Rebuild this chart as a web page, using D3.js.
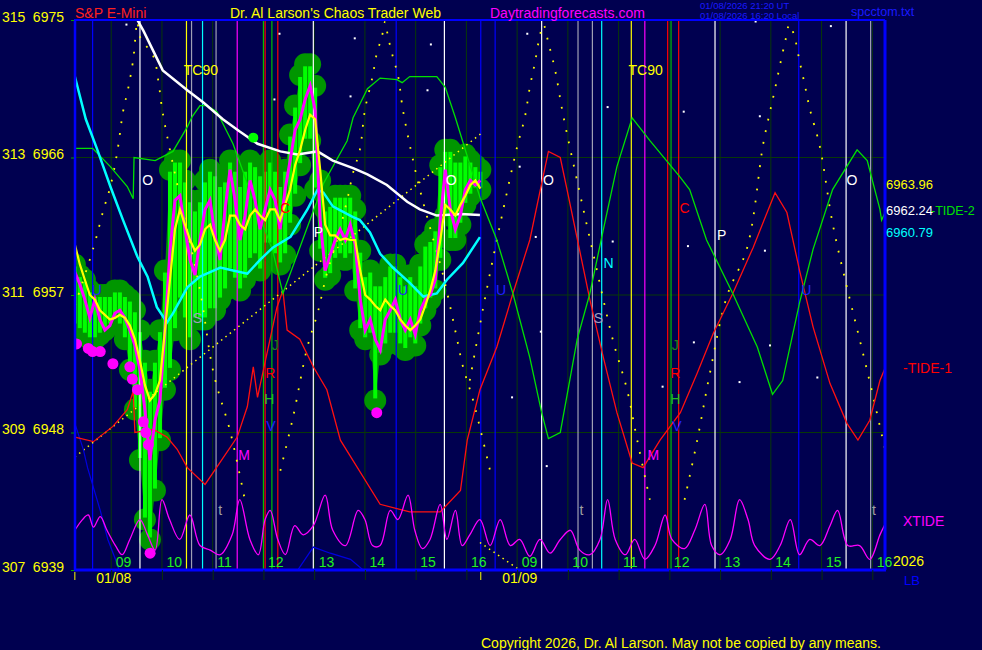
<!DOCTYPE html>
<html><head><meta charset="utf-8">
<script src="https://cdn.jsdelivr.net/npm/d3@7"></script>
<style>
html,body{margin:0;padding:0;background:#000050;}
svg{display:block;}
text{font-family:"Liberation Sans",Arial,sans-serif;}
</style></head><body>
<svg id="chart" width="982" height="650"></svg>
<script>
// ---------- DATA (time = session minutes from 01/08 09:00, 60 per hour slot; price = S&P E-mini) ----------
const priceTicks = [6939, 6948, 6957, 6966, 6975];
const altTicks = [307, 309, 311, 313, 315];
const hourTicks = [0,60,120,180,240,300,360,420,480,540,600,660,720,780,840,900];
const hourLabels = ["09","10","11","12","13","14","15","16","09","10","11","12","13","14","15","16"];
const dateTicks = [-43, 437];
const dateLabels = ["01/08", "01/09"];

// 1-bar price series (regular samples)
const barStart = -43, barStep = 5.92;
const closeP = [6958.5,6957.7,6956.7,6955.5,6956.7,6955.4,6954.7,6955.0,6955.8,6956.0,
6955.5,6954.7,6953.7,6952.1,6949.5,6946.2,6948.8,6950.1,6954.7,6959.9,
6963.2,6963.5,6961.3,6959.3,6958.3,6960.6,6962.6,6963.2,6960.9,6959.3,
6962.6,6965.2,6963.2,6960.6,6962.2,6964.5,6963.2,6961.3,6962.6,6963.9,
6963.2,6961.3,6963.9,6965.8,6967.8,6968.5,6969.8,6970.7,6969.1,6961.9,
6958.6,6959.6,6960.6,6961.3,6960.6,6961.6,6960.3,6956.7,6954.7,6955.4,
6954.1,6953.4,6955.4,6956.0,6956.7,6955.4,6954.7,6955.4,6954.4,6956.0,
6956.7,6957.0,6958.0,6961.9,6965.2,6962.6,6961.3,6962.2,6963.9,6964.5,
6964.2,6964.5];
const yellowP = [6960.3,6959.0,6958.0,6957.0,6956.7,6956.0,6955.7,6955.4,6955.5,6955.7,
6955.5,6955.0,6954.1,6952.7,6951.1,6950.1,6950.5,6951.4,6954.7,6958.0,
6961.3,6962.6,6961.6,6960.6,6959.9,6960.3,6961.3,6961.6,6960.6,6959.9,
6960.6,6962.2,6962.2,6961.6,6961.3,6962.2,6962.6,6962.2,6961.9,6962.6,
6962.6,6961.9,6962.9,6963.9,6965.5,6966.5,6967.8,6968.8,6968.5,6965.2,
6961.6,6960.9,6960.9,6960.6,6960.7,6960.6,6960.6,6958.6,6957.0,6956.7,
6956.3,6956.0,6956.7,6956.3,6956.0,6955.4,6955.0,6954.7,6955.0,6955.4,
6956.3,6957.3,6958.6,6960.6,6962.9,6962.6,6962.2,6962.9,6963.5,6964.2,
6964.5,6963.96];
const barHigh = [6959.0,6958.3,6958.0,6957.3,6957.0,6957.0,6957.0,6957.0,6957.3,6957.3,
6957.0,6956.7,6956.0,6954.7,6952.7,6950.8,6952.7,6954.7,6958.6,6965.2,
6965.8,6965.8,6964.5,6963.2,6962.6,6963.2,6964.5,6965.2,6964.9,6964.2,
6964.5,6965.8,6965.2,6964.2,6965.2,6965.8,6965.5,6964.9,6965.2,6965.8,
6965.2,6964.2,6965.2,6967.5,6969.4,6971.4,6972.1,6972.1,6970.7,6964.5,
6962.6,6962.9,6963.5,6963.5,6963.5,6963.5,6962.6,6959.9,6958.3,6958.6,
6957.7,6957.7,6958.3,6959.0,6959.0,6958.3,6957.7,6958.3,6957.7,6959.0,
6960.3,6960.6,6961.3,6965.5,6966.5,6966.5,6965.8,6965.8,6966.2,6965.8,
6965.5,6965.2];
const barLow = [6955.0,6954.7,6954.4,6954.1,6954.1,6954.4,6954.7,6955.0,6955.4,6955.0,
6954.1,6952.1,6949.5,6946.2,6942.3,6941.0,6944.2,6947.5,6950.8,6952.1,
6954.7,6956.7,6955.4,6954.1,6955.4,6955.4,6955.4,6956.0,6956.0,6956.7,
6957.3,6958.6,6958.0,6957.3,6958.0,6959.3,6959.6,6958.6,6960.3,6960.3,
6959.6,6959.0,6959.6,6961.6,6963.5,6965.5,6967.1,6967.1,6963.9,6959.9,
6958.0,6958.3,6959.3,6959.6,6959.3,6959.6,6957.3,6954.7,6954.1,6954.4,
6950.1,6953.1,6953.7,6954.4,6954.4,6953.7,6953.4,6954.1,6953.7,6955.0,
6956.0,6956.7,6957.3,6959.3,6962.2,6960.6,6960.6,6961.6,6962.9,6963.5,
6963.9,6963.9];

// moving averages
const cyanT = [-43,-30,-17,-1,14,31,43,54,66,73,90,105,113,129,144,161,176,191,212,232,244,251,262,286,294,306,318,333,353,369,385,397,416,436];
const cyanP = [6971.3,6968.5,6966.6,6964.1,6961.9,6959.5,6958.2,6956.2,6955.2,6955.8,6957.5,6958.2,6958.4,6958.8,6958.6,6958.4,6959.3,6960.1,6960.8,6962.6,6963.9,6963.7,6962.8,6962.1,6961.9,6961.1,6959.7,6958.8,6957.8,6956.9,6957.1,6958.0,6959.1,6960.79];
const whiteT = [26,38,61,90,109,132,152,173,200,220,244,262,286,303,326,350,365,385,413,436];
const whiteP = [6975.5,6974.3,6971.7,6970.4,6969.6,6968.5,6967.7,6966.9,6966.4,6966.2,6966.4,6965.8,6965.3,6964.9,6964.2,6963.1,6962.6,6962.2,6962.3,6962.24];

// forecast tides
const tide2T = [-43,-22,-1,19,26,27,52,73,90,96,105,113,125,144,161,191,203,251,279,286,303,318,338,344,353,385,395,407,436,456,475,495,509,517,531,551,566,582,598,616,637,673,684,704,735,764,782,794,814,830,853,882,894,909,911,915];
const tide2P = [6966.6,6966.6,6965.4,6964.1,6963.3,6966.0,6965.8,6966.4,6968.0,6968.7,6969.4,6969.4,6969.0,6966.9,6964.3,6959.9,6957.1,6964.3,6967.1,6968.6,6970.5,6971.2,6971.1,6970.9,6971.3,6971.3,6970.6,6968.6,6963.4,6960.6,6957.1,6952.9,6949.3,6947.6,6948.0,6954.1,6957.1,6961.3,6965.4,6968.6,6967.1,6964.7,6963.9,6960.6,6957.1,6953.6,6950.5,6951.4,6956.5,6960.0,6963.9,6966.5,6965.8,6962.6,6961.9,6962.4];
const tide1T = [-43,-21,2,19,26,28,50,66,78,90,111,149,161,168,173,180,196,203,208,223,239,255,271,318,353,389,413,421,436,456,475,495,509,517,531,539,554,566,582,598,616,629,649,673,693,712,735,759,785,799,814,830,850,870,883,897,909,915];
const tide1P = [6947.7,6947.4,6948.4,6949.5,6950.7,6948.0,6948.2,6947.7,6946.9,6945.7,6944.6,6947.7,6949.7,6952.3,6950.3,6952.1,6956.2,6957.3,6954.7,6954.1,6952.3,6950.8,6947.5,6943.3,6942.8,6942.8,6944.2,6947.5,6950.8,6953.6,6957.1,6960.6,6964.3,6966.4,6966.0,6963.9,6959.9,6956.7,6952.9,6949.3,6946.0,6945.7,6947.5,6949.3,6951.9,6954.5,6957.1,6960.1,6963.7,6962.4,6958.6,6954.9,6951.2,6948.6,6947.5,6948.8,6951.4,6952.2];
const xtideT = [-43,-34,-27,-21,-13,-5,5,13,22,34,43,52,60,69,81,93,105,117,129,143,152,164,174,182,188,197,206,217,227,239,253,262,277,292,300,309,318,330,339,351,359,368,377,389,397,407,415,424,436,448,460,472,483,495,507,519,531,543,554,566,578,587,596,608,619,631,643,655,663,678,690,702,710,720,732,743,753,761,779,791,803,814,826,838,850,859,871,885,897,909,915];
const xtideP = [6941.6,6942.3,6942.6,6941.8,6942.5,6941.6,6940.6,6940.0,6941.0,6942.3,6941.3,6940.3,6943.6,6942.3,6941.0,6942.6,6940.6,6940.3,6940.0,6941.3,6943.6,6941.0,6940.0,6942.3,6942.9,6941.0,6940.0,6941.9,6941.3,6941.9,6943.9,6941.6,6940.6,6942.9,6942.3,6940.6,6940.6,6942.9,6942.3,6943.9,6941.6,6940.4,6941.0,6943.3,6941.0,6942.9,6940.6,6941.3,6942.3,6940.6,6942.3,6940.6,6941.0,6939.9,6941.0,6940.1,6941.0,6941.6,6940.3,6940.0,6941.0,6943.6,6941.0,6940.0,6941.0,6939.7,6940.6,6942.6,6941.0,6940.4,6941.6,6943.3,6940.6,6940.0,6941.0,6943.6,6942.3,6940.6,6939.7,6940.6,6942.3,6940.0,6941.0,6940.6,6941.9,6942.9,6940.6,6940.6,6939.7,6941.3,6942.0];
const blueT1 = [-43,-33,-28,-13,-4,5,11];
const blueP1 = [6948.6,6946.9,6945.7,6942.9,6941.0,6939.7,6938.7];
const blueT2 = [217,239,259,283,300];
const blueP2 = [6938.7,6940.5,6940.1,6939.7,6938.9];

// dotted arcs
const arcAT = [-43,-21,-9,-1,7,14,20,26,31,34,50,56,61,82,105,121,141,158];
const arcAP = [6956.3,6960.1,6962.6,6964.1,6966.3,6969.0,6970.5,6972.4,6974.9,6973.9,6972.6,6970.9,6968.9,6963.2,6957.3,6951.9,6948.0,6943.6];
const arcBT = [200,215,232,244,255,267,279,286,294,300,309,314,320,324,327,333,339,345,357,365,381,392,401,409,416,428,448];
const arcBP = [6945.5,6949.0,6953.6,6955.8,6958.4,6960.6,6963.2,6965.0,6966.5,6969.1,6971.3,6972.8,6973.9,6974.9,6974.0,6972.6,6971.4,6969.1,6965.8,6963.9,6960.6,6958.4,6956.2,6954.1,6952.3,6950.1,6945.5];
const arcCT = [424,440,456,480,489,495,501,507,511,517,525,534,554,570,593,610,622,637];
const arcCP = [6951.4,6956.2,6960.6,6966.7,6968.6,6970.6,6972.2,6974.0,6974.7,6973.5,6971.7,6968.9,6963.7,6959.7,6954.1,6950.8,6947.5,6943.6];
const arcDT = [678,693,708,728,752,771,779,785,791,797,802,808,814,820,826,838,853,870,885,900,915];
const arcDP = [6943.6,6947.5,6951.9,6956.9,6960.1,6966.9,6969.0,6970.5,6972.1,6973.6,6974.7,6973.9,6972.3,6970.8,6969.2,6966.7,6961.7,6957.5,6954.1,6950.6,6946.9];
const trendT = [-43, 438];
const trendP = [6946.4, 6967.6];
const trend2T = [436, 483];
const trend2P = [6940.8, 6939.0];

// event markers
const blueLines = [-22, 337, 437, 454, 813];
const whiteLines = [34, 239, 394, 509, 714, 869];
const yellowLines = [89, 615];
const grayLines = [95, 124, 552, 569, 898];
const cyanLines = [108, 580];
const magentaLines = [149, 631];
const redLines = [182, 197, 658, 671];
const greenLines = [180, 190, 662];

const lowDotT = [-41,-27,-22,-13,2,22,25,31,38,41,44,46,314];
const lowDotP = [6953.8,6953.5,6953.3,6953.3,6952.5,6952.3,6951.5,6950.8,6948.7,6948.0,6947.2,6940.1,6949.3];
const whiteDotT = [18,199,193,288,378,374,283,492,587,762,851,677,767,483,502,593,682,773,508,474,652,689,779,743,835,515];
const whiteDotP = [6974.7,6974.1,6969.8,6973.8,6973.4,6970.4,6970.0,6974.1,6969.3,6974.9,6974.6,6969.0,6968.7,6965.4,6960.8,6960.5,6960.2,6959.9,6954.6,6950.3,6951.0,6953.9,6953.7,6951.3,6951.6,6945.8];

const letters = ["O","O","O","O","P","P","U","U","U","U","S","S","N","C","C","J","J","R","R","H","H","V","V","M","M","t","t","t","TC90","TC90"];
const letterT = [43,402,517,876,245,722,-17,345,461,822,102,576,588,206,678,194,667,188,667,187,667,189,669,157,641,129,556,902,106,632];
const letterP = [6964.5,6964.5,6964.5,6964.5,6961.1,6960.9,6957.3,6957.3,6957.3,6957.3,6955.5,6955.5,6959.1,6962.7,6962.7,6953.7,6953.7,6951.9,6951.9,6950.2,6950.2,6948.4,6948.4,6946.5,6946.5,6942.9,6942.9,6942.9,6971.7,6971.7];

// ---------- DRAWING ----------
const svg = d3.select("#chart");
const W = 982, H = 650;
const x = d3.scaleLinear().domain([-44, 915]).range([74, 885]);
const y = d3.scaleLinear().domain([6939, 6975]).range([570, 20]);
const X0 = x(-44), X1 = x(915), Y0 = y(6975), Y1 = y(6939);
const C = {bg:"#000050", grid:"#083808", blue:"#0000ff", white:"#ffffff", yellow:"#ffff00",
  gray:"#a0a0b4", cyan:"#00ffff", magenta:"#ff00ff", red:"#ff0000", green:"#00c000",
  bright:"#00ff00", dark:"#009600", tideG:"#00e000", tideR:"#ff1010"};
const letterColor = {O:"#ffffff",P:"#ffffff",U:"#2020ff",V:"#2020ff",S:"#a0a0c0",N:"#00ffff",C:"#ff0000",R:"#ff0000",J:"#208020",H:"#20c020",M:"#ff00ff",t:"#a0a0a0",TC90:"#ffff00"};

svg.append("rect").attr("width", W).attr("height", H).attr("fill", C.bg);
svg.append("defs").append("clipPath").attr("id", "clip").append("rect")
  .attr("x", X0).attr("y", Y0).attr("width", X1 - X0).attr("height", Y1 - Y0);

const line = d3.line().x(d => x(d[0])).y(d => y(d[1]));
const barT = d3.range(closeP.length).map(i => barStart + i * barStep);

// grid
const g = svg.append("g").attr("clip-path", "url(#clip)");
g.selectAll(".hg").data(priceTicks.slice(1, -1)).join("line")
  .attr("x1", X0).attr("x2", X1).attr("y1", d => y(d)).attr("y2", d => y(d))
  .attr("stroke", C.grid).attr("stroke-width", 1);
g.selectAll(".vg").data(hourTicks).join("line").attr("class","vg")
  .attr("x1", d => x(d)).attr("x2", d => x(d)).attr("y1", Y0).attr("y2", Y1)
  .attr("stroke", C.grid).attr("stroke-width", 1);

// price blobs
const bars = d3.zip(barT, barHigh, barLow);
g.append("path").datum(bars)
  .attr("d", d3.area().x(d => x(d[0])).y0(d => y(d[2])).y1(d => y(d[1])))
  .attr("fill", C.dark);
g.selectAll(".ch").data(bars).join("circle")
  .attr("cx", d => x(d[0])).attr("cy", d => y(d[1])).attr("r", 11).attr("fill", C.dark);
g.selectAll(".cl").data(bars).join("circle")
  .attr("cx", d => x(d[0])).attr("cy", d => y(d[2])).attr("r", 11).attr("fill", C.dark);
g.selectAll(".bar").data(bars).join("rect")
  .attr("x", d => x(d[0]) - 2).attr("width", 4)
  .attr("y", d => y(d[1]) + 2).attr("height", d => Math.max(1, y(d[2]) - y(d[1]) - 4))
  .attr("fill", C.bright);

// event markers
const markers = [[blueLines, C.blue],[whiteLines, C.white],[yellowLines, C.yellow],[grayLines, C.gray],
  [cyanLines, C.cyan],[magentaLines, C.magenta],[redLines, C.red],[greenLines, C.green]];
markers.forEach(([arr, col]) => {
  g.selectAll(null).data(arr).join("line")
    .attr("x1", d => x(d)).attr("x2", d => x(d)).attr("y1", Y0).attr("y2", Y1)
    .attr("stroke", col).attr("stroke-width", 1.2);
});

// dotted arcs and trend lines
const curved = d3.line().x(d => x(d[0])).y(d => y(d[1])).curve(d3.curveCatmullRom);
[[arcAT, arcAP],[arcBT, arcBP],[arcCT, arcCP],[arcDT, arcDP]].forEach(([t, p]) => {
  g.append("path").datum(d3.zip(t, p))
    .attr("d", curved).attr("fill", "none")
    .attr("stroke", C.yellow).attr("stroke-width", 1.8).attr("stroke-dasharray", "1.8,10");
});
[[trendT, trendP],[trend2T, trend2P]].forEach(([t, p]) => {
  g.append("path").datum(d3.zip(t, p)).attr("d", line).attr("fill", "none")
    .attr("stroke", C.yellow).attr("stroke-width", 1.5).attr("stroke-dasharray", "1.5,4");
});

// white scatter dots
g.selectAll(".wd").data(d3.zip(whiteDotT, whiteDotP)).join("rect")
  .attr("x", d => x(d[0]) - 1).attr("y", d => y(d[1]) - 1).attr("width", 2).attr("height", 2).attr("fill", C.white);

// tides
const thin = (t, p, col, w, gen) => g.append("path").datum(d3.zip(t, p)).attr("d", gen || line)
  .attr("fill", "none").attr("stroke", col).attr("stroke-width", w);
thin(blueT1, blueP1, "#0000e0", 1.2);
thin(blueT2, blueP2, "#0000e0", 1.2);
thin(tide1T, tide1P, C.tideR, 1.3);
thin(tide2T, tide2P, C.tideG, 1.3);
thin(xtideT, xtideP, C.magenta, 1.3, curved);

// averages and close
thin(cyanT, cyanP, C.cyan, 2.5);
thin(whiteT, whiteP, C.white, 2.5);
thin(barT, closeP, C.magenta, 3);
thin(barT, yellowP, C.yellow, 2.2);

// dots
g.selectAll(".ld").data(d3.zip(lowDotT, lowDotP)).join("circle")
  .attr("cx", d => x(d[0])).attr("cy", d => y(d[1])).attr("r", 5.5).attr("fill", C.magenta);
g.append("circle").attr("cx", x(168)).attr("cy", y(6967.3)).attr("r", 5).attr("fill", C.bright);

// letters
g.selectAll(".lt").data(d3.zip(letters, letterT, letterP)).join("text")
  .attr("x", d => x(d[1])).attr("y", d => y(d[2]))
  .attr("dy", "0.35em").attr("text-anchor", "middle")
  .attr("font-size", 14).attr("fill", d => letterColor[d[0]]).text(d => d[0]);

// border
svg.append("line").attr("x1", X0).attr("x2", X1).attr("y1", Y0).attr("y2", Y0).attr("stroke", C.blue).attr("stroke-width", 2);
svg.append("line").attr("x1", X0).attr("x2", X1 + 1).attr("y1", Y1).attr("y2", Y1).attr("stroke", C.blue).attr("stroke-width", 3);
svg.append("line").attr("x1", X0 + 1).attr("x2", X0 + 1).attr("y1", Y0).attr("y2", Y1).attr("stroke", C.blue).attr("stroke-width", 2.5);
svg.append("line").attr("x1", X1).attr("x2", X1).attr("y1", Y0).attr("y2", Y1).attr("stroke", C.blue).attr("stroke-width", 3);

// bottom hour axis
const xAxis = d3.axisBottom(x).tickValues(hourTicks).tickSize(10).tickFormat((d, i) => hourLabels[i]);
const gx = svg.append("g").attr("transform", `translate(0,${Y1})`).call(xAxis);
gx.select(".domain").remove();
gx.attr("font-family", null).attr("font-size", null);
gx.selectAll(".tick line").attr("stroke", "#0a300a");
gx.selectAll(".tick text").attr("fill", "#20f020").attr("font-size", 14)
  .attr("text-anchor", "start").attr("x", 4).attr("y", -3).attr("dy", 0);

// date ticks
svg.selectAll(".dt").data(dateTicks).join("line")
  .attr("x1", d => x(d)).attr("x2", d => x(d)).attr("y1", Y1 + 2).attr("y2", Y1 + 10)
  .attr("stroke", C.yellow).attr("stroke-width", 1);
svg.selectAll(".dl").data(d3.zip(dateTicks, dateLabels)).join("text")
  .attr("x", d => x(d[0]) + 39).attr("y", Y1 + 13).attr("text-anchor", "middle")
  .attr("font-size", 14).attr("fill", C.yellow).text(d => d[1]);

// left axis
const yAxis = d3.axisLeft(y).tickValues(priceTicks).tickSize(3).tickFormat(d => d);
const gy = svg.append("g").attr("transform", `translate(${X0},0)`).call(yAxis);
gy.select(".domain").remove();
gy.attr("font-family", null).attr("font-size", null);
gy.selectAll(".tick line").attr("stroke", "#00a000");
gy.selectAll(".tick text").attr("fill", C.yellow).attr("font-size", 14)
  .attr("x", -10).attr("dy", 0).attr("y", 1);
gy.selectAll(".tick").append("text").attr("fill", C.yellow).attr("font-size", 14)
  .attr("x", -72).attr("y", 1).attr("text-anchor", "start").text((d, i) => altTicks[i]);

// right end labels
const endLabels = [[yellowP[yellowP.length - 1], C.yellow], [whiteP[whiteP.length - 1], C.white], [cyanP[cyanP.length - 1], C.cyan]];
endLabels.forEach(([v, col]) => {
  svg.append("text").attr("x", X1 + 1).attr("y", y(v)).attr("font-size", 13).attr("fill", col).text(v.toFixed(2));
});
svg.append("text").attr("x", X1 + 46).attr("y", y(tide2P[tide2P.length - 1]) + 2).attr("font-size", 12.5).attr("fill", C.tideG).text("-TIDE-2");
svg.append("text").attr("x", X1 + 18).attr("y", y(tide1P[tide1P.length - 1]) + 5).attr("font-size", 14).attr("fill", C.red).text("-TIDE-1");
svg.append("text").attr("x", X1 + 18).attr("y", y(xtideP[xtideP.length - 1]) + 2).attr("font-size", 14).attr("fill", C.magenta).text("XTIDE");
svg.append("text").attr("x", X1 + 8).attr("y", Y1 - 4).attr("font-size", 14).attr("fill", C.yellow).text("2026");
svg.append("text").attr("x", X1 + 19).attr("y", Y1 + 15).attr("font-size", 13).attr("fill", C.blue).text("LB");

// titles
svg.append("text").attr("x", 75).attr("y", 18).attr("font-size", 14).attr("fill", "#ff2020").text("S&P E-Mini");
svg.append("text").attr("x", 230).attr("y", 18).attr("font-size", 14).attr("fill", C.yellow).text("Dr. Al Larson's Chaos Trader Web");
svg.append("text").attr("x", 490).attr("y", 18).attr("font-size", 14).attr("fill", C.magenta).text("Daytradingforecasts.com");
svg.append("text").attr("x", 700).attr("y", 9).attr("font-size", 9.5).attr("fill", "#1a1aff").text("01/08/2026 21:20 UT");
svg.append("text").attr("x", 700).attr("y", 19).attr("font-size", 9.5).attr("fill", "#1a1aff").text("01/08/2026 16:20 Local");
svg.append("text").attr("x", 851).attr("y", 16).attr("font-size", 12.5).attr("fill", "#1a1aff").text("spcctom.txt");
svg.append("text").attr("x", 481).attr("y", 648).attr("font-size", 14).attr("fill", C.yellow).text("Copyright 2026, Dr. Al Larson. May not be copied by any means.");
</script>
</body></html>
